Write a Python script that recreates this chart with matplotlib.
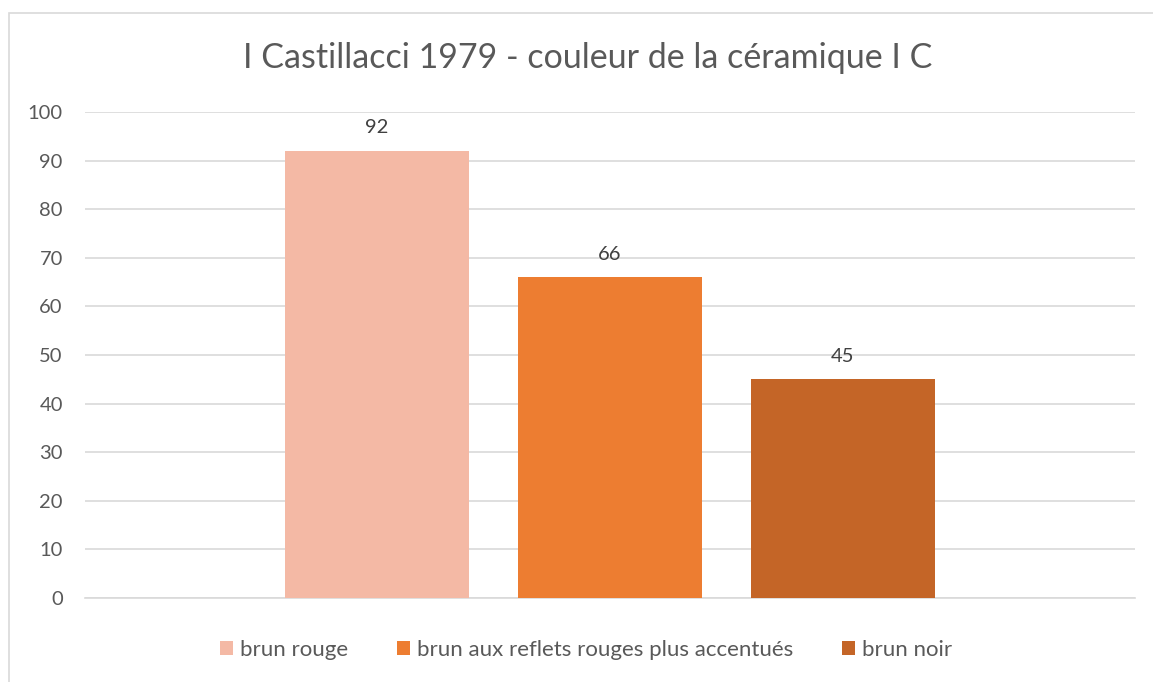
import matplotlib.pyplot as plt
from matplotlib.patches import Rectangle

# chart data
title = "I Castillacci 1979 - couleur de la céramique I C"
series = ["brun rouge", "brun aux reflets rouges plus accentués", "brun noir"]
values = [92, 66, 45]
colors = ["#F4B9A5", "#ED7D31", "#C46527"]
yticks = [0, 10, 20, 30, 40, 50, 60, 70, 80, 90, 100]

plt.rcParams['font.family'] = ['Lato', 'DejaVu Sans']

fig = plt.figure(figsize=(11.53, 6.82), dpi=100)
ax = fig.add_axes([85 / 1153, 1 - 598 / 682, 1050 / 1153, 486 / 682])

# outer chart border
fig.patches.append(Rectangle((9 / 1153, -0.1), 1.2, 1.1 - 13 / 682, transform=fig.transFigure,
                             fill=False, edgecolor="#D9D9D9", linewidth=1.2))

width = 184 / 1050
step = 233 / 1050
for i, (name, v, c) in enumerate(zip(series, values, colors)):
    x = (i - 1) * step
    ax.bar(x, v, width=width, color=c, label=name, zorder=3)
    ax.text(x, v + 3, str(v), ha="center", va="bottom", fontsize=14.5, color="#404040")

ax.set_xlim(-0.5, 0.5)
ax.set_ylim(0, 100)
ax.set_yticks(yticks)
ax.set_xticks([])
ax.tick_params(axis="y", length=0, labelsize=14.5, labelcolor="#595959", pad=16)
ax.grid(axis="y", color="#D9D9D9", linewidth=1.2, zorder=0)
for s in ["top", "right", "left"]:
    ax.spines[s].set_visible(False)
ax.spines["bottom"].set_color("#D9D9D9")
ax.spines["bottom"].set_linewidth(1.2)

fig.text(588 / 1153, 1 - 58 / 682, title, ha="center", va="center", fontsize=24.5, color="#595959")

fig.legend(loc="center", bbox_to_anchor=(586 / 1153, 1 - 650 / 682), ncol=3, frameon=False,
           fontsize=16, labelcolor="#595959", handlelength=0.6, handleheight=0.6,
           handletextpad=0.3, columnspacing=2.2)

fig.savefig("out.png", dpi=100)
